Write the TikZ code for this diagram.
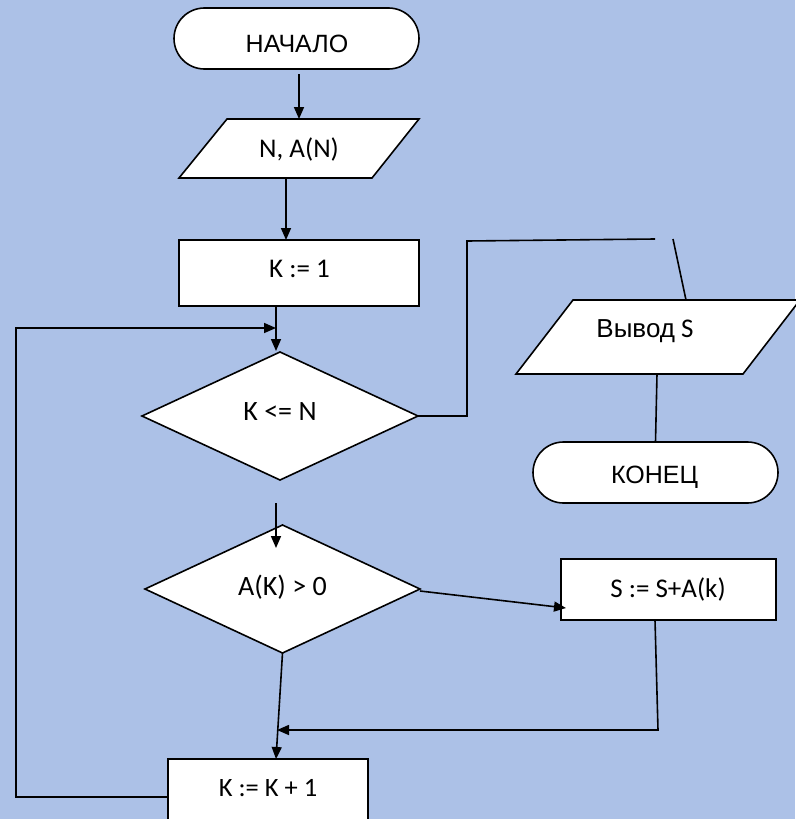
\documentclass[tikz,border=0pt]{standalone}
\usepackage{fontspec}
\setmainfont{Carlito}
\newfontfamily\arialf{Liberation Sans}
\usetikzlibrary{shapes.geometric,shapes.misc,arrows.meta}
\definecolor{bgblue}{RGB}{172,193,231}
\begin{document}
\begin{tikzpicture}[x=1pt,y=-1pt,
  every node/.style={inner sep=0pt, outer sep=0pt},
  shp/.style={draw=black, fill=white, line width=1.6pt},
  conn/.style={draw=black, line width=1.6pt},
  arr/.style={conn, -{Triangle[length=12pt,width=10pt]}},
  term/.style={shp, rounded rectangle, minimum width=245pt, minimum height=61pt},
  procbox/.style={shp, rectangle},
  decis/.style={shp, diamond},
  txt/.style={anchor=base, font=\fontsize{27}{32}\selectfont},
  rtxt/.style={anchor=base, font=\arialf\fontsize{25}{30}\selectfont}]
\fill[bgblue] (0,0) rectangle (795,819);
\useasboundingbox (0,0) rectangle (795,819);

% shapes
\node[term] (start) at (296.5,38.5) {};
\draw[shp] (227,119) coordinate (inTL) -- (419,119) -- (372,178) -- (179,178) -- cycle;
\node[procbox, minimum width=240pt, minimum height=66pt] (k1) at (299,273) {};
\node[decis, minimum width=276pt, minimum height=128pt] (c1) at (280,416) {};
\draw[shp] (573,300) -- (800,300) -- (743,374) -- (516,374) -- cycle;
\node[term] (fin) at (655.5,472.5) {};
\node[decis, minimum width=275pt, minimum height=128pt] (c2) at (282.5,589) {};
\node[procbox, minimum width=215pt, minimum height=61pt] (sum) at (668.5,589.5) {};
\node[procbox, minimum width=200pt, minimum height=76pt] (inc) at (268,797) {};

% texts
\node[rtxt] (tstart) at (297,52) {НАЧАЛО};
\node[txt] (tin) at (299,157) {N, A(N)};
\node[txt] (tk1) at (299.5,277) {K := 1};
\node[txt, font=\fontsize{28}{33}\selectfont] (tc1) at (280,420) {K <= N};
\node[txt, anchor=base] (tout) at (645,337) {{\arialf\fontsize{26}{31}\selectfont Вывод} S};
\node[rtxt] (tfin) at (654.5,483) {КОНЕЦ};
\node[txt, font=\fontsize{28}{33}\selectfont] (tc2) at (282.5,595) {A(K) > 0};
\node[txt] (tsum) at (668,597) {S := S+A(k)};
\node[txt, font=\fontsize{26.5}{31}\selectfont] (tinc) at (268,796) {K := K + 1};

% named connector ends
\coordinate (inTop) at (299,119);
\coordinate (inBot) at (286,178);
\coordinate (c1in) at (276,351);
\coordinate (lcorner) at (16,328);
\coordinate (loopIn) at (276,328);
\coordinate (rcorner) at (467,241);
\coordinate (topRight) at (655,239);
\coordinate (topGap) at (673,239);
\coordinate (outTop) at (686,300);
\coordinate (outBot) at (657,374);
\coordinate (c2from) at (276,503);
\coordinate (c2in) at (276,548);
\coordinate (c2out) at (420,591);
\coordinate (sumIn) at (566,608);
\coordinate (sumOut) at (655,620);
\coordinate (sumCorner) at (658,730);
\coordinate (mergePt) at (277,730);

% connectors
\draw[arr, shorten <=5pt] (start.south -| inTop) -- (inTop);
\draw[arr] (inBot) -- (k1.north -| inBot);
\draw[arr] (k1.south -| c1in) -- (c1in);
\draw[arr] (inc.west) -| (lcorner) -- (loopIn);
\draw[conn] (c1.east) -| (rcorner) -- (topRight);
\draw[conn] (topGap) -- (outTop);
\draw[conn] (outBot) -- (fin.north);
\draw[arr] (c2from) -- (c2in);
\draw[arr] (c2out) -- (sumIn);
\draw[arr] (c2.south) -- (inc.north -| c2from);
\draw[arr] (sumOut) -- (sumCorner) -- (mergePt);
\end{tikzpicture}
\end{document}
